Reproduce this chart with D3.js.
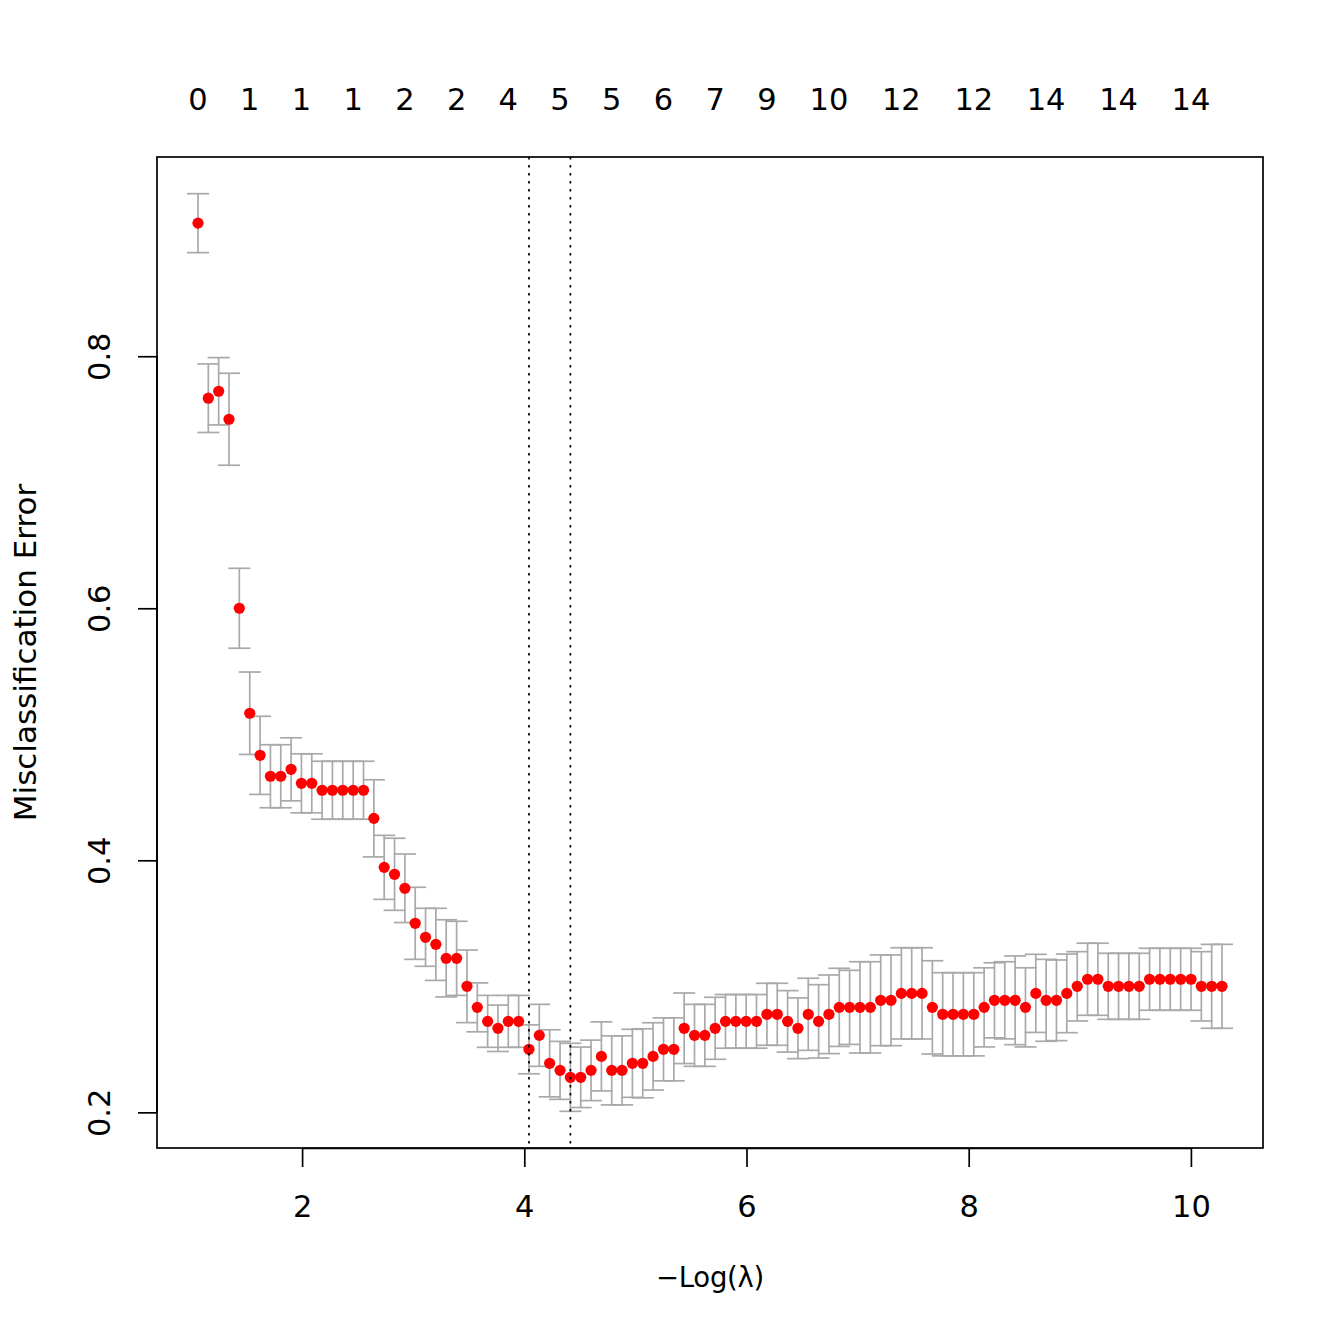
<!DOCTYPE html>
<html>
<head>
<meta charset="utf-8">
<script src="https://cdn.jsdelivr.net/npm/d3@7"></script>
<style>
  html, body { margin: 0; padding: 0; background: #fff; }
  svg text { font-family: "DejaVu Sans", sans-serif; }
</style>
</head>
<body>
<svg id="chart" width="1344" height="1344"></svg>
<script>
// -log(lambda) for each of the 100 lambdas
const logLambda = [
  1.063, 1.156, 1.249, 1.342, 1.435, 1.529, 1.622, 1.715, 1.808, 1.901,
  1.994, 2.087, 2.180, 2.273, 2.366, 2.460, 2.553, 2.646, 2.739, 2.832,
  2.925, 3.018, 3.111, 3.204, 3.297, 3.391, 3.484, 3.577, 3.670, 3.763,
  3.856, 3.949, 4.042, 4.135, 4.228, 4.322, 4.415, 4.508, 4.601, 4.694,
  4.787, 4.880, 4.973, 5.066, 5.159, 5.253, 5.346, 5.439, 5.532, 5.625,
  5.718, 5.811, 5.904, 5.997, 6.090, 6.184, 6.277, 6.370, 6.463, 6.556,
  6.649, 6.742, 6.835, 6.928, 7.021, 7.115, 7.208, 7.301, 7.394, 7.487,
  7.580, 7.673, 7.766, 7.859, 7.952, 8.046, 8.139, 8.232, 8.325, 8.418,
  8.511, 8.604, 8.697, 8.790, 8.883, 8.977, 9.070, 9.163, 9.256, 9.349,
  9.442, 9.535, 9.628, 9.721, 9.814, 9.908, 10.001, 10.094, 10.187, 10.280
];
// mean cross-validated misclassification error
const cvm = [
  0.9056, 0.7667, 0.7722, 0.7500, 0.6000, 0.5167, 0.4833, 0.4667, 0.4667, 0.4722,
  0.4611, 0.4611, 0.4556, 0.4556, 0.4556, 0.4556, 0.4556, 0.4333, 0.3944, 0.3889,
  0.3778, 0.3500, 0.3389, 0.3333, 0.3222, 0.3222, 0.3000, 0.2833, 0.2722, 0.2667,
  0.2722, 0.2722, 0.2500, 0.2611, 0.2389, 0.2333, 0.2278, 0.2278, 0.2333, 0.2444,
  0.2333, 0.2333, 0.2389, 0.2389, 0.2444, 0.2500, 0.2500, 0.2667, 0.2611, 0.2611,
  0.2667, 0.2722, 0.2722, 0.2722, 0.2722, 0.2778, 0.2778, 0.2722, 0.2667, 0.2778,
  0.2722, 0.2778, 0.2833, 0.2833, 0.2833, 0.2833, 0.2889, 0.2889, 0.2944, 0.2944,
  0.2944, 0.2833, 0.2778, 0.2778, 0.2778, 0.2778, 0.2833, 0.2889, 0.2889, 0.2889,
  0.2833, 0.2944, 0.2889, 0.2889, 0.2944, 0.3000, 0.3056, 0.3056, 0.3000, 0.3000,
  0.3000, 0.3000, 0.3056, 0.3056, 0.3056, 0.3056, 0.3056, 0.3000, 0.3000, 0.3000
];
// standard error of the CV error
const cvsd = [
  0.0234, 0.0272, 0.0267, 0.0365, 0.0317, 0.0327, 0.0310, 0.0250, 0.0250, 0.0250,
  0.0234, 0.0234, 0.0230, 0.0230, 0.0230, 0.0230, 0.0230, 0.0306, 0.0254, 0.0286,
  0.0272, 0.0286, 0.0230, 0.0286, 0.0306, 0.0294, 0.0288, 0.0194, 0.0206, 0.0184,
  0.0206, 0.0206, 0.0194, 0.0246, 0.0266, 0.0230, 0.0270, 0.0240, 0.0240, 0.0274,
  0.0274, 0.0274, 0.0270, 0.0274, 0.0267, 0.0250, 0.0250, 0.0280, 0.0246, 0.0246,
  0.0246, 0.0213, 0.0213, 0.0213, 0.0213, 0.0246, 0.0246, 0.0244, 0.0241, 0.0286,
  0.0291, 0.0312, 0.0310, 0.0294, 0.0362, 0.0362, 0.0360, 0.0360, 0.0362, 0.0362,
  0.0362, 0.0370, 0.0330, 0.0330, 0.0330, 0.0330, 0.0314, 0.0298, 0.0306, 0.0352,
  0.0314, 0.0310, 0.0325, 0.0320, 0.0312, 0.0275, 0.0286, 0.0286, 0.0262, 0.0262,
  0.0262, 0.0262, 0.0246, 0.0246, 0.0246, 0.0246, 0.0246, 0.0275, 0.0333, 0.0333
];
// number of non-zero coefficients shown on the top axis (at lambda index)
const topIdx    = [0, 5, 10, 15, 20, 25, 30, 35, 40, 45, 50, 55, 61, 68, 75, 82, 89, 96];
const topLabels = ["0","1","1","1","2","2","4","5","5","6","7","9","10","12","12","14","14","14"];
const xTicks = [2, 4, 6, 8, 10];
const yTicks = [0.2, 0.4, 0.6, 0.8];
const xTitle = "\u2212Log(\u03bb)";
const yTitle = "Misclassification Error";

const L = 157, R = 1263, T = 157, B = 1148;
const FS = 30.5;
const svg = d3.select("#chart");

const x = d3.scaleLinear().domain([0.694, 10.649]).range([L, R]);
const y = d3.scaleLinear().domain([0.1717, 0.9581]).range([B, T]);

const data = logLambda.map((v, i) => ({ x: v, m: cvm[i], s: cvsd[i] }));

// lambda.min and lambda.1se
let iMin = 0;
cvm.forEach((v, i) => { if (v < cvm[iMin]) iMin = i; });
const thr = cvm[iMin] + cvsd[iMin];
let i1se = cvm.findIndex(v => v <= thr);

// error bars
const gEb = svg.append("g").attr("stroke", "#A9A9A9").attr("stroke-width", 1.7).attr("fill", "none");
const capW = 11;
data.forEach(d => {
  const cx = x(d.x), yu = y(d.m + d.s), yl = y(d.m - d.s);
  gEb.append("line").attr("x1", cx).attr("x2", cx).attr("y1", yu).attr("y2", yl);
  gEb.append("line").attr("x1", cx - capW).attr("x2", cx + capW).attr("y1", yu).attr("y2", yu);
  gEb.append("line").attr("x1", cx - capW).attr("x2", cx + capW).attr("y1", yl).attr("y2", yl);
});

// points
svg.append("g").selectAll("circle").data(data).join("circle")
  .attr("cx", d => x(d.x)).attr("cy", d => y(d.m)).attr("r", 5.6)
  .attr("fill", "#FF0000");

// vertical dotted lines
[i1se, iMin].forEach(i => {
  svg.append("line")
    .attr("x1", x(logLambda[i])).attr("x2", x(logLambda[i]))
    .attr("y1", T).attr("y2", B)
    .attr("stroke", "#000").attr("stroke-width", 1.7)
    .attr("stroke-dasharray", "2.5,5.5");
});

// box
svg.append("rect").attr("x", L).attr("y", T).attr("width", R - L).attr("height", B - T)
  .attr("fill", "none").attr("stroke", "#000").attr("stroke-width", 1.7);

// bottom axis
const xAxis = d3.axisBottom(x).tickValues(xTicks).tickSize(19).tickPadding(30)
  .tickFormat(d3.format("d"));
const gx = svg.append("g").attr("transform", `translate(0,${B})`).call(xAxis);
gx.select(".domain").attr("d", `M${x(xTicks[0])},0.5H${x(xTicks[xTicks.length-1])}`)
  .attr("stroke", "#000").attr("stroke-width", 1.7);
gx.selectAll(".tick line").attr("stroke", "#000").attr("stroke-width", 1.7);
gx.selectAll(".tick text").attr("font-size", FS).attr("font-family", "DejaVu Sans")
  .attr("fill", "#000").attr("y", 1217 - B).attr("dy", 0);

// left axis
const yAxis = d3.axisLeft(y).tickValues(yTicks).tickSize(19).tickFormat(d3.format(".1f"));
const gy = svg.append("g").attr("transform", `translate(${L},0)`).call(yAxis);
gy.select(".domain").attr("d", `M0,${y(yTicks[0])}V${y(yTicks[yTicks.length-1])}`)
  .attr("stroke", "#000").attr("stroke-width", 1.7);
gy.selectAll(".tick line").attr("stroke", "#000").attr("stroke-width", 1.7);
gy.selectAll(".tick text").attr("font-size", FS).attr("font-family", "DejaVu Sans")
  .attr("fill", "#000").attr("x", 0).attr("dy", 0)
  .attr("text-anchor", "middle")
  .attr("transform", `translate(${110 - L},0) rotate(-90)`);

// top axis labels (no ticks)
svg.append("g").selectAll("text").data(topIdx).join("text")
  .attr("x", i => x(logLambda[i])).attr("y", 110)
  .attr("text-anchor", "middle").attr("font-size", FS).attr("fill", "#000")
  .text((i, k) => topLabels[k]);

// titles
svg.append("text").attr("x", (L + R) / 2).attr("y", 1287)
  .attr("text-anchor", "middle").attr("font-size", 27.5).attr("fill", "#000")
  .attr("letter-spacing", -0.3)
  .text(xTitle);
svg.append("text").attr("transform", `translate(36,${(T + B) / 2}) rotate(-90)`)
  .attr("text-anchor", "middle").attr("font-size", 31).attr("fill", "#000")
  .text(yTitle);
</script>
</body>
</html>
